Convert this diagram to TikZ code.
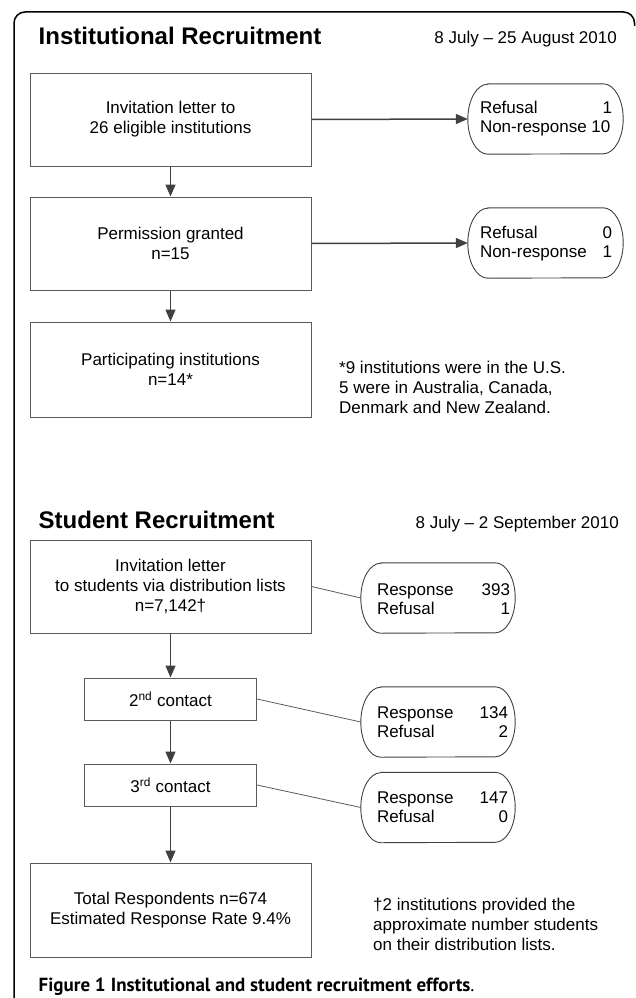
\documentclass[tikz,border=0pt]{standalone}
\usepackage{fontspec}
\setmainfont{Liberation Sans}
\newfontfamily\capfont{PT Sans}
\usetikzlibrary{arrows.meta}
\definecolor{boxgray}{HTML}{5A5A5A}
\definecolor{arrowgray}{HTML}{404040}
\begin{document}
\begin{tikzpicture}[x=1pt,y=-1pt,
  box/.style={draw=boxgray, line width=1pt, align=center, inner sep=0pt,
    font=\fontsize{17}{20}\selectfont},
  bigbox/.style={box, minimum width=281pt, minimum height=93pt},
  smallbox/.style={box, minimum width=172pt, minimum height=42pt},
  ovalnode/.style={draw=none, inner sep=0pt, minimum width=155pt, minimum height=70pt},
  ovaltext/.style={inner sep=0pt, font=\fontsize{17}{19}\selectfont},
  ovalline/.style={draw=arrowgray, line width=0.9pt},
  arr/.style={draw=arrowgray, line width=1.5pt, -{Triangle[length=12pt,width=10pt]}},
  thinline/.style={draw=boxgray, line width=0.8pt},
  heading/.style={font=\bfseries\fontsize{24}{28}\selectfont, inner sep=0pt},
  datetext/.style={font=\fontsize{17}{20}\selectfont, inner sep=0pt},
  note/.style={font=\fontsize{17}{20}\selectfont, align=left, inner sep=0pt},
  frame/.style={draw=black, line width=1.5pt, rounded corners=11pt}
]
\useasboundingbox (0,0) rectangle (636,998);

% frame
\coordinate (fbl) at (14,1000);
\coordinate (ftl) at (14,12);
\coordinate (ftr) at (634.5,12);
\coordinate (fre) at (634.5,26);
\draw[frame] (fbl) -- (ftl) -- (ftr) -- (fre);

% headings
\node[heading, anchor=base west] (h1) at (38.5,45) {Institutional Recruitment};
\node[datetext, anchor=base east] (d1) at (617,43.5) {8 July – 25 August 2010};
\node[heading, anchor=base west] (h2) at (38.5,528) {Student Recruitment};
\node[datetext, anchor=base east] (d2) at (619,528) {8 July – 2 September 2010};

% institutional boxes
\node[bigbox] (b1) at (170.5,119.5) {Invitation letter to\\26 eligible institutions};
\node[bigbox] (b2) at (170.5,243.5) {Permission granted\\n=15};
\node[bigbox, minimum height=95pt] (b3) at (170.5,369.5) {Participating institutions\\n=14*};

% student boxes
\node[bigbox] (b4) at (170.5,586.5) {Invitation letter\\to students via distribution lists\\n=7,142†};
\node[smallbox] (b5) at (170.5,699) {2\textsuperscript{nd} contact};
\node[smallbox] (b6) at (170.5,785) {3\textsuperscript{rd} contact};
\node[bigbox, minimum height=94pt] (b7) at (170.5,910) {Total Respondents n=674\\Estimated Response Rate 9.4\%};

% ovals
\node[ovalnode] (o1) at (545.5,119) {};
\node[ovalnode] (o2) at (545.5,243) {};
\node[ovalnode, minimum width=154pt] (o4) at (438,598) {};
\node[ovalnode, minimum width=154pt] (o5) at (438,722) {};
\node[ovalnode, minimum width=154pt] (o6) at (438,807.5) {};
\foreach \n in {o1,o2,o4,o5,o6} {
  \draw[ovalline] ([xshift=20pt]\n.north west) -- ([xshift=-20pt]\n.north east)
    arc[start angle=90, end angle=-90, x radius=20pt, y radius=35pt]
    -- ([xshift=20pt]\n.south west)
    arc[start angle=270, end angle=90, x radius=20pt, y radius=35pt] -- cycle;
}
\node[ovaltext] (t1) at (546,119) {\parbox{132pt}{Refusal\hfill 1\\Non-response 10}};
\node[ovaltext] (t2) at (546,244) {\parbox{132pt}{Refusal\hfill 0\\Non-response\hfill 1}};
\node[ovaltext] (t4) at (443.5,599) {\parbox{133pt}{Response\hfill 393\\Refusal\hfill 1}};
\node[ovaltext] (t5) at (442.5,722) {\parbox{131pt}{Response\hfill 134\\Refusal\hfill 2}};
\node[ovaltext] (t6) at (442.5,807) {\parbox{131pt}{Response\hfill 147\\Refusal\hfill 0}};

% notes
\node[note, anchor=west] (n1) at (339,387) {*9 institutions were in the U.S.\\5 were in Australia, Canada,\\Denmark and New Zealand.};
\node[note, anchor=west] (n2) at (373,924) {†2 institutions provided the\\approximate number students\\on their distribution lists.};

% caption
\node[inner sep=0pt, anchor=base west, font=\capfont\fontsize{19}{22}\selectfont] (cap) at (38.5,991)
  {\textbf{Figure 1} \textbf{Institutional and student recruitment efforts}.};

% connectors
\draw[arr] (b1) -- (b2);
\draw[arr] (b2) -- (b3);
\draw[arr] (b1.east) -- (o1.west);
\draw[arr] (b2.east) -- (o2.west);
\draw[arr] (b4) -- (b5);
\draw[arr] (b5) -- (b6);
\draw[arr] (b6) -- (b7);
\draw[thinline] (b4.east) -- (o4.west);
\draw[thinline] (b5.east) -- (o5.west);
\draw[thinline] (b6.east) -- (o6.west);
\end{tikzpicture}
\end{document}
